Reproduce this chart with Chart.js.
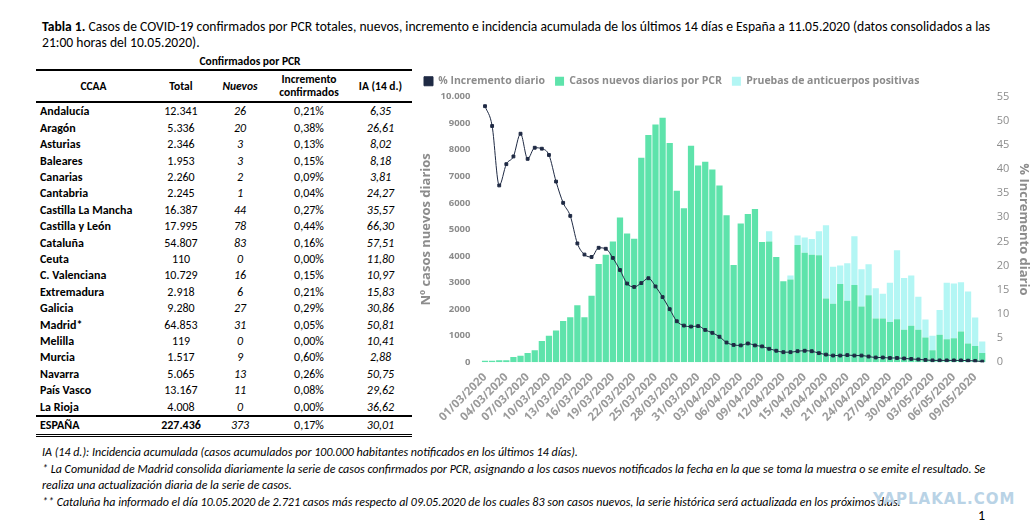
<!DOCTYPE html>
<html>
<head>
<meta charset="utf-8">
<script src="https://cdn.jsdelivr.net/npm/chart.js@4"></script>
<style>
body { margin: 0; width: 1036px; height: 531px; background: #fff; font-family: Carlito, Lato, "Liberation Sans", sans-serif; position: relative; overflow: hidden; color: #000; }
.title { position: absolute; left: 42px; top: 19px; width: 975px; font-size: 13.6px; line-height: 16px; }
table { position: absolute; left: 36px; top: 53px; width: 376px; border-collapse: collapse; font-size: 12px; }
td, th { padding: 0; height: 16.4px; line-height: 16.4px; text-align: center; }
td:first-child { text-align: left; font-weight: bold; padding-left: 4px; }
th { font-weight: bold; font-size: 11.5px; line-height: 13px; }
thead tr.head th { border-top: 2px solid #000; border-bottom: 2px solid #000; height: 30px; }
.it { font-style: italic; }
tr.total td { border-top: 2px solid #000; border-bottom: 3px double #000; font-weight: bold; }
.notes { position: absolute; left: 42px; top: 444px; width: 950px; font-size: 12px; font-style: italic; line-height: 16.5px; }
#wrap { position: absolute; left: 412px; top: 64px; width: 624px; height: 360px; }
.wm { position: absolute; left: 873px; top: 490px; font: bold 15px "DejaVu Sans", sans-serif; color: #b9d3e6; letter-spacing: 1px; }
.page { position: absolute; left: 978px; top: 507px; font-size: 14px; }
</style>
</head>
<body>
<div class="title"><b>Tabla 1.</b> Casos de COVID-19 confirmados por PCR totales, nuevos, incremento e incidencia acumulada de los últimos 14 días e España a 11.05.2020 (datos consolidados a las 21:00 horas del 10.05.2020).</div>
<table id="tbl">
<thead>
<tr><th></th><th colspan="3" style="height:14px">Confirmados por PCR</th><th></th></tr>
<tr class="head"><th style="width:115px">CCAA</th><th style="width:60px">Total</th><th class="it" style="width:58px">Nuevos</th><th style="width:80px">Incremento<br>confirmados</th><th>IA (14 d.)</th></tr>
</thead>
<tbody></tbody>
</table>
<div class="notes">
IA (14 d.): Incidencia acumulada (casos acumulados por 100.000 habitantes notificados en los últimos 14 días).<br>
* La Comunidad de Madrid consolida diariamente la serie de casos confirmados por PCR, asignando a los casos nuevos notificados la fecha en la que se toma la muestra o se emite el resultado. Se realiza una actualización diaria de la serie de casos.<br>
** Cataluña ha informado el día 10.05.2020 de 2.721 casos más respecto al 09.05.2020 de los cuales 83 son casos nuevos, la serie histórica será actualizada en los próximos días.
</div>
<div class="wm">YAPLAKAL.COM</div>
<div class="page">1</div>
<div id="wrap"><canvas id="chartCanvas"></canvas></div>
<script>
// table data
const ccaa = ['Andalucía','Aragón','Asturias','Baleares','Canarias','Cantabria','Castilla La Mancha','Castilla y León','Cataluña','Ceuta','C. Valenciana','Extremadura','Galicia','Madrid*','Melilla','Murcia','Navarra','País Vasco','La Rioja']
const totals = ['12.341','5.336','2.346','1.953','2.260','2.245','16.387','17.995','54.807','110','10.729','2.918','9.280','64.853','119','1.517','5.065','13.167','4.008']
const nuevos = [26,20,3,3,2,1,44,78,83,0,16,6,27,31,0,9,13,11,0]
const incremento = ['0,21%','0,38%','0,13%','0,15%','0,09%','0,04%','0,27%','0,44%','0,16%','0,00%','0,15%','0,21%','0,29%','0,05%','0,00%','0,60%','0,26%','0,08%','0,00%']
const ia14 = ['6,35','26,61','8,02','8,18','3,81','24,27','35,57','66,30','57,51','11,80','10,97','15,83','30,86','50,81','10,41','2,88','50,75','29,62','36,62']

let rows = ''
ccaa.forEach((c, i) => {
    rows += `<tr><td>${c}</td><td>${totals[i]}</td><td class="it">${nuevos[i]}</td><td>${incremento[i]}</td><td class="it">${ia14[i]}</td></tr>`
})
rows += `<tr class="total"><td>ESPAÑA</td><td>227.436</td><td class="it" style="font-weight:normal">373</td><td style="font-weight:normal">0,17%</td><td class="it" style="font-weight:normal">30,01</td></tr>`
document.querySelector('#tbl tbody').innerHTML = rows

// chart data
const dates = []
;[[3,31],[4,30],[5,10]].forEach(([m, n]) => {
    for (let d = 1; d <= n; d++) dates.push(String(d).padStart(2,'0') + '/' + String(m).padStart(2,'0') + '/2020')
})
const casosPCR = [
    60,60,80,80,200,250,350,450,800,1000,
    1200,1550,1700,2150,1700,2500,3700,4050,4550,5450,
    4850,4650,7700,8550,8950,9200,8250,6450,5800,8150,7400,
    7550,7250,6650,5530,3660,5220,5580,5770,4530,4545,
    3960,3050,3120,4415,4120,4050,4030,2400,2200,2950,
    2320,2910,2100,2520,1650,1650,1520,1620,1230,1380,
    1230,935,455,1040,870,910,1160,710,610,350
]
const anticuerpos = [
    0,0,0,0,0,0,0,0,0,0,
    0,0,0,0,0,0,0,0,0,0,
    0,0,0,0,0,0,0,0,0,0,0,
    0,0,0,0,0,0,0,0,0,385,
    0,0,150,355,580,590,900,2760,1400,690,
    1410,1830,1400,1170,1140,930,1470,2600,1940,1890,
    1240,675,545,930,2120,2060,1850,1950,1080,430
]
const incrementoDiario = [
    53,48.9,36.6,41,42.6,47.3,42.1,44.4,44.2,42.9,
    37.4,33,30.3,24.6,22.3,21.8,23.7,23.5,21.6,19.1,
    16.3,15.6,16.4,17.4,15.7,13.5,11,8.5,7.6,7.4,7.5,
    6.7,6.1,5.3,4.1,3.6,3.5,3.9,3.5,3.3,2.8,
    2.4,2.1,2.1,2.3,2.4,2.3,1.9,1.6,1.4,1.4,
    1.5,1.4,1.4,1.2,1.0,1.0,0.9,0.9,0.8,0.7,
    0.6,0.5,0.4,0.4,0.4,0.4,0.4,0.35,0.3,0.15
]
const leftTicks = [0,1000,2000,3000,4000,5000,6000,7000,8000,9000,10000]

const grey = '#8c8c8c'
const tickFont = { family: 'Open Sans, sans-serif', size: 9.5, weight: 'bold' }

new Chart(document.getElementById('chartCanvas'), {
    data: {
        labels: dates,
        datasets: [
            {
                type: 'line', label: '% Incremento diario', data: incrementoDiario, yAxisID: 'y2',
                borderColor: '#1f2a44', backgroundColor: '#1f2a44', borderWidth: 1,
                pointRadius: 2, pointStyle: 'rect', tension: 0.4, cubicInterpolationMode: 'monotone', order: 0
            },
            {
                type: 'bar', label: 'Casos nuevos diarios por PCR', data: casosPCR, yAxisID: 'y',
                backgroundColor: '#5ee3ab', categoryPercentage: 1, barPercentage: 0.88, order: 1
            },
            {
                type: 'bar', label: 'Pruebas de anticuerpos positivas', data: anticuerpos, yAxisID: 'y',
                backgroundColor: '#b3f6f4', categoryPercentage: 1, barPercentage: 0.88, order: 2
            }
        ]
    },
    options: {
        responsive: true, maintainAspectRatio: false, animation: false,
        layout: { padding: { left: 2, right: 0, top: 2, bottom: 0 } },
        plugins: {
            legend: {
                position: 'top', align: 'start',
                labels: { boxWidth: 9, boxHeight: 9, color: grey, padding: 10, font: { family: 'Open Sans, sans-serif', size: 10.5, weight: 'bold' } }
            },
            tooltip: { enabled: false }
        },
        scales: {
            x: {
                stacked: true,
                grid: { display: false }, border: { display: false },
                ticks: {
                    autoSkip: false, maxRotation: 45, minRotation: 45, color: '#9a9a9a', font: { family: 'Open Sans, sans-serif', size: 11.5, weight: 'bold' }, padding: 0,
                    callback: function(v, i) { return i % 3 === 0 ? dates[i] : '' }
                }
            },
            y: {
                stacked: true, min: 0, max: 10000,
                afterBuildTicks: axis => { axis.ticks = leftTicks.map(v => ({ value: v })) },
                grid: { display: false }, border: { display: false },
                ticks: { color: grey, font: tickFont, callback: v => v === 10000 ? '10.000' : v },
                title: { display: true, text: 'Nº casos nuevos diarios', color: grey, font: { family: 'Open Sans, sans-serif', size: 13, weight: 'bold' } }
            },
            y2: {
                position: 'right', min: 0, max: 55,
                grid: { display: false }, border: { display: false },
                ticks: { stepSize: 5, color: grey, font: { family: 'Open Sans, sans-serif', size: 11 } },
                title: { display: true, text: '% Incremento diario', color: grey, font: { family: 'Open Sans, sans-serif', size: 13, weight: 'bold' } }
            }
        }
    }
})
</script>
</body>
</html>
